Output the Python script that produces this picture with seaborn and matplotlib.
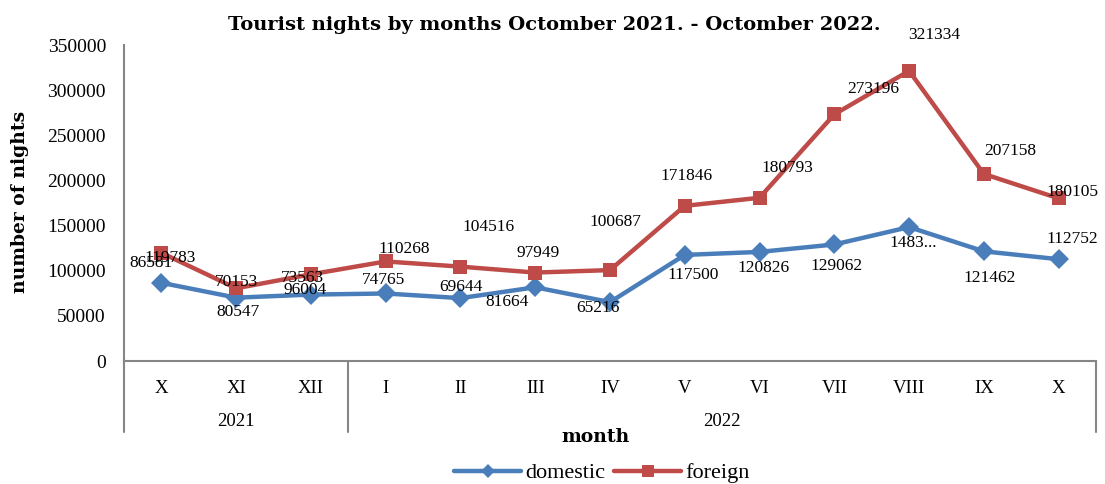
import matplotlib
matplotlib.use("Agg")
import matplotlib.pyplot as plt
import seaborn as sns
import pandas as pd
from matplotlib.lines import Line2D
from matplotlib.transforms import blended_transform_factory

# ---------------- data ----------------
months = ["X", "XI", "XII", "I", "II", "III", "IV", "V", "VI", "VII", "VIII", "IX", "X"]
years = ["2021", "2022"]
year_first = [0, 3]
year_last = [2, 12]
domestic = [86581, 70153, 73563, 74765, 69644, 81664, 65216,
            117500, 120826, 129062, 148300, 121462, 112752]
foreign = [119783, 80547, 96004, 110268, 104516, 97949, 100687,
           171846, 180793, 273196, 321334, 207158, 180105]
domestic_text = [str(v) for v in domestic]
domestic_text[10] = "1483..."
foreign_text = [str(v) for v in foreign]

# label offsets (pixels, +x right, +y up) as placed in the reference
dom_dx = [-10, 0, -8, -2, 0, -28, -12, 8, 4, 2, 4, 6, 14]
dom_dy = [20, 16, 17, 13, 11, -15, -6, -20, -16, -22, -16, -27, 20]
for_dx = [9, 2, -6, 19, 28, 3, 5, 2, 28, 39, 25, 26, 14]
for_dy = [-5, -24, -16, 12, 40, 20, 48, 30, 30, 25, 36, 23, 6]

BLUE = "#4A7EBB"
RED = "#BE4B48"
GRAY = "#868686"

sns.set_style("white")
plt.rcParams["font.family"] = ["DejaVu Serif"]
plt.rcParams["text.color"] = "black"
plt.rcParams["axes.labelcolor"] = "black"
plt.rcParams["xtick.labelcolor"] = "black"
plt.rcParams["ytick.labelcolor"] = "black"

fig = plt.figure(figsize=(11.05, 4.84), dpi=100)
ax = fig.add_axes([124 / 1105, 1 - 361 / 484, (1096 - 124) / 1105, (361 - 45) / 484])

pos = list(range(len(months)))
df = pd.DataFrame({
    "pos": pos * 2,
    "nights": domestic + foreign,
    "series": ["domestic"] * len(pos) + ["foreign"] * len(pos),
})
sns.lineplot(data=df, x="pos", y="nights", hue="series", style="series",
             markers={"domestic": "D", "foreign": "s"}, dashes=False,
             palette={"domestic": BLUE, "foreign": RED},
             linewidth=3.2, markersize=10, markeredgewidth=0,
             legend=False, ax=ax)

lab_font = dict(family="Liberation Serif", size=12.5, color="black")
for i in pos:
    ax.annotate(domestic_text[i], (i, domestic[i]),
                xytext=(dom_dx[i] * 0.72, dom_dy[i] * 0.72), textcoords="offset points",
                ha="center", va="center", **lab_font)
    ax.annotate(foreign_text[i], (i, foreign[i]),
                xytext=(for_dx[i] * 0.72, for_dy[i] * 0.72), textcoords="offset points",
                ha="center", va="center", **lab_font)

ax.set_xlim(-0.5, len(months) - 0.5)
ax.set_ylim(0, 350000)
ax.set_yticks(range(0, 350001, 50000))
ax.tick_params(axis="y", direction="out", length=5, width=1.2, color=GRAY,
               labelsize=14, pad=8)
for t in ax.get_yticklabels():
    t.set_family("Liberation Serif")
ax.set_xticks(pos)
ax.set_xticklabels(months, family="Liberation Serif", fontsize=13.5)
ax.tick_params(axis="x", length=0, pad=14)
for s in ["top", "right"]:
    ax.spines[s].set_visible(False)
for s in ["left", "bottom"]:
    ax.spines[s].set_color(GRAY)
    ax.spines[s].set_linewidth(1.5)
ax.set_xlabel("")
ax.set_ylabel("")
fig.text(20 / 1105, 1 - 202 / 484, "number of nights", rotation=90, ha="center", va="center",
         fontsize=13.5, fontweight="bold")

# multi-level category axis
tr = blended_transform_factory(ax.transData, ax.transAxes)
for xb in [-0.5, 2.5, len(months) - 0.5]:
    ax.plot([xb, xb], [0, -0.225], transform=tr, color=GRAY, lw=1.5, clip_on=False)
for y, a, b in zip(years, year_first, year_last):
    ax.text((a + b) / 2, -0.19, y, transform=tr, ha="center", va="center",
            family="Liberation Serif", fontsize=13.5)

fig.text(595 / 1105, 1 - 437 / 484, "month", ha="center", va="center",
         fontsize=13.5, fontweight="bold")
fig.text(554 / 1105, 1 - 25 / 484,
         "Tourist nights by months Octomber 2021. - Octomber 2022.",
         ha="center", va="center", fontsize=14, fontweight="bold")

handles = [Line2D([], [], color=BLUE, lw=3.2, marker="D", markersize=7, markeredgewidth=0),
           Line2D([], [], color=RED, lw=3.2, marker="s", markersize=8, markeredgewidth=0)]
fig.legend(handles, ["domestic", "foreign"], loc="center", bbox_to_anchor=(0.545, 1 - 473 / 484),
           ncol=2, frameon=False, handlelength=3.0, columnspacing=0.4, handletextpad=0.2,
           prop={"family": "Liberation Serif", "size": 16})

fig.savefig("out.png", dpi=100)
